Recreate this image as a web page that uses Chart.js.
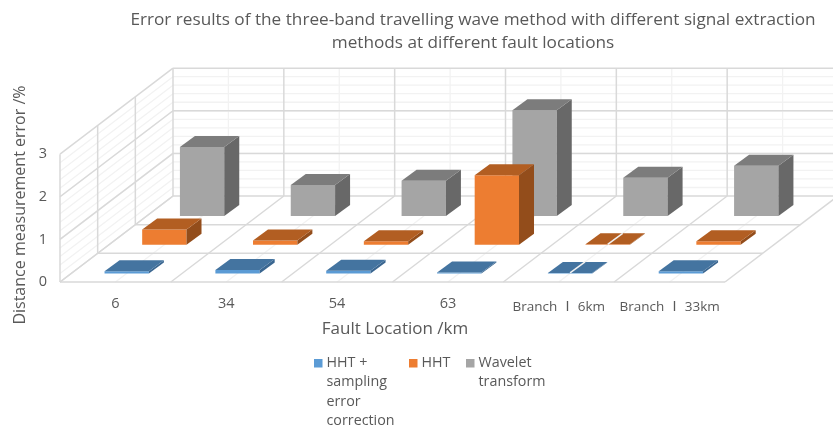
<!DOCTYPE html>
<html>
<head>
<meta charset="utf-8">
<style>
  html, body { margin: 0; padding: 0; background: #fff; }
  canvas { display: block; }
</style>
<script src="https://cdn.jsdelivr.net/npm/chart.js@4/dist/chart.umd.js"></script>
</head>
<body>
<canvas id="myChart" width="833" height="428"></canvas>
<script>
const categories = ['6', '34', '54', '63', 'Branch Ⅰ 6km', 'Branch Ⅰ 33km'];
const hhtCorrected = [0.05, 0.08, 0.06, 0.02, 0.01, 0.05];
const hhtPlain = [0.36, 0.10, 0.08, 1.63, 0.01, 0.08];
const waveletValues = [1.62, 0.73, 0.83, 2.48, 0.90, 1.18];
const yTicks = [0, 1, 2, 3];

const textColor = '#595959';
const fontFamily = '"Open Sans", "Noto Sans CJK SC", sans-serif';

// the "3D box" of the chart: how far the back wall sits from the front plane
const boxDx = 113;
const boxDy = 86;
const barDx = 15;
const barDy = 11;
// where each series stands between front (0) and back (1), same order as datasets
const seriesDepth = [0.1, 0.433, 0.767];
// legend columns, the native legend can't space wrapped labels
const legendX = [314, 409, 466];
const legendTop = 363;
const legendLine = 19.3;

function line(ctx, x1, y1, x2, y2, color, width) {
    ctx.beginPath();
    ctx.moveTo(x1, y1);
    ctx.lineTo(x2, y2);
    ctx.strokeStyle = color;
    ctx.lineWidth = width;
    ctx.stroke();
}

function face(ctx, pts, color) {
    ctx.beginPath();
    pts.forEach((p, i) => i ? ctx.lineTo(p[0], p[1]) : ctx.moveTo(p[0], p[1]));
    ctx.closePath();
    ctx.fillStyle = color;
    ctx.fill();
}

function nudgeTitle(scale, dx, dy) {
    if (scale._nudged) return;
    scale._nudged = true;
    const draw = scale.drawTitle;
    scale.drawTitle = function () {
        this.ctx.save();
        this.ctx.translate(dx, dy);
        draw.call(this);
        this.ctx.restore();
    };
}

const box3d = {
    id: 'box3d',
    afterLayout(chart) {
        // native title, centred where the original has it
        chart.titleBlock.left = 0;
        chart.titleBlock.right = 946;
        nudgeTitle(chart.scales.x, 2.5, 0);
        nudgeTitle(chart.scales.y, 0, -13);
    },
    beforeDatasetsDraw(chart) {
        const { ctx } = chart;
        const x = chart.scales.x;
        const y = chart.scales.y;
        const y0 = y.getPixelForValue(0);
        const major = '#d9d9d9';
        const minor = '#f2f2f2';

        // minor lines first
        for (let v = 0.2; v < 3; v += 0.2) {
            const py = y.getPixelForValue(v);
            line(ctx, x.left, py, x.left + boxDx, py - boxDy, minor, 1.3);
            line(ctx, x.left + boxDx, py - boxDy, x.right + boxDx, py - boxDy, minor, 1.3);
        }
        categories.forEach((c, i) => {
            const px = x.getPixelForValue(i);
            line(ctx, px, y0, px + boxDx, y0 - boxDy, minor, 1.3);
            line(ctx, px + boxDx, y0 - boxDy, px + boxDx, y.top - boxDy, minor, 1.3);
        });

        // major lines
        yTicks.forEach(v => {
            const py = y.getPixelForValue(v);
            line(ctx, x.left, py, x.left + boxDx, py - boxDy, major, 1.5);
            line(ctx, x.left + boxDx, py - boxDy, x.right + boxDx, py - boxDy, major, 1.5);
        });
        for (let i = 0; i <= categories.length; i++) {
            const px = x.getPixelForValue(i - 0.5);
            line(ctx, px, y0, px + boxDx, y0 - boxDy, major, 1.5);
            line(ctx, px + boxDx, y0 - boxDy, px + boxDx, y.top - boxDy, major, 1.5);
        }
        [0, 1 / 3, 2 / 3].forEach(d => {
            const ox = boxDx * d;
            const oy = boxDy * d;
            line(ctx, x.left + ox, y0 - oy, x.right + ox, y0 - oy, major, 1.5);
            line(ctx, x.left + ox, y0 - oy, x.left + ox, y.top - oy, major, 1.5);
        });
    },
    beforeDatasetDraw(chart, args) {
        const d = seriesDepth[args.index];
        chart.ctx.save();
        chart.ctx.translate(boxDx * d, -boxDy * d);
    },
    afterDatasetDraw(chart, args) {
        const { ctx } = chart;
        const ds = chart.data.datasets[args.index];
        args.meta.data.forEach((bar, i) => {
            const { x, y, base, width } = bar.getProps(['x', 'y', 'base', 'width'], true);
            const l = x - width / 2;
            const r = x + width / 2;
            face(ctx, [[r, y], [r + barDx, y - barDy], [r + barDx, base - barDy], [r, base]], ds.sideColor);
            face(ctx, [[l, y], [r, y], [r + barDx, y - barDy], [l + barDx, y - barDy]], ds.topColor);
            // nearly flat bars let the floor line show through, like the original
            if (ds.data[i] < 0.015) {
                line(ctx, x, y, x + barDx, y - barDy, '#f2f2f2', 1.5);
            }
        });
        ctx.restore();
    },
    afterDraw(chart) {
        const { ctx } = chart;
        ctx.save();
        ctx.font = '14.3px ' + fontFamily;
        ctx.textBaseline = 'middle';
        chart.data.datasets.forEach((ds, i) => {
            ctx.fillStyle = ds.backgroundColor;
            ctx.fillRect(legendX[i], legendTop - 4, 8.5, 8.5);
            ctx.fillStyle = textColor;
            ds.label.forEach((text, n) => {
                ctx.fillText(text, legendX[i] + 12.5, legendTop + n * legendLine);
            });
        });
        ctx.restore();
    }
};

new Chart(document.getElementById('myChart').getContext('2d'), {
    type: 'bar',
    data: {
        labels: categories,
        datasets: [{
            label: ['HHT +', 'sampling', 'error', 'correction'],
            data: hhtCorrected,
            backgroundColor: '#5b9bd5',
            topColor: '#4474a0',
            sideColor: '#3a6690'
        }, {
            label: ['HHT'],
            data: hhtPlain,
            backgroundColor: '#ed7d31',
            topColor: '#b25e22',
            sideColor: '#934d1b'
        }, {
            label: ['Wavelet', 'transform'],
            data: waveletValues,
            backgroundColor: '#a5a5a5',
            topColor: '#7c7c7c',
            sideColor: '#686868'
        }]
    },
    options: {
        responsive: false,
        animation: false,
        layout: { padding: { left: 0, right: 108, top: 0, bottom: 86 } },
        datasets: { bar: { grouped: false, barPercentage: 0.4, categoryPercentage: 1, clip: false } },
        scales: {
            x: {
                grid: { display: false },
                border: { display: false },
                afterFit: s => { s.height = 60; },
                ticks: {
                    autoSkip: false,
                    maxRotation: 0,
                    padding: 2,
                    color: textColor,
                    font: c => c.index >= 4
                        ? { family: fontFamily, size: 13.5, lineHeight: '30px' }
                        : { family: fontFamily, size: 14.5, lineHeight: '24px' }
                },
                title: {
                    display: true,
                    text: 'Fault Location /km',
                    color: textColor,
                    font: { family: fontFamily, size: 17 },
                    padding: { top: 0, bottom: 3 }
                }
            },
            y: {
                min: 0,
                max: 3,
                grid: { display: false },
                border: { display: false },
                afterFit: s => { s.width = 60; },
                ticks: {
                    stepSize: 1,
                    padding: 5,
                    color: textColor,
                    font: { family: fontFamily, size: 14.5 }
                },
                title: {
                    display: true,
                    text: 'Distance measurement error /%',
                    color: textColor,
                    font: { family: fontFamily, size: 16 },
                    padding: { top: 11, bottom: 0 }
                }
            }
        },
        plugins: {
            title: {
                display: true,
                text: ['Error results of the three-band travelling wave method with different signal extraction',
                    'methods at different fault locations'],
                color: textColor,
                font: { family: fontFamily, size: 17.2, weight: 'normal', lineHeight: 1.37 },
                padding: { top: 8, bottom: 99 }
            },
            legend: { display: false },
            tooltip: { enabled: false }
        }
    },
    plugins: [box3d]
});
</script>
</body>
</html>
